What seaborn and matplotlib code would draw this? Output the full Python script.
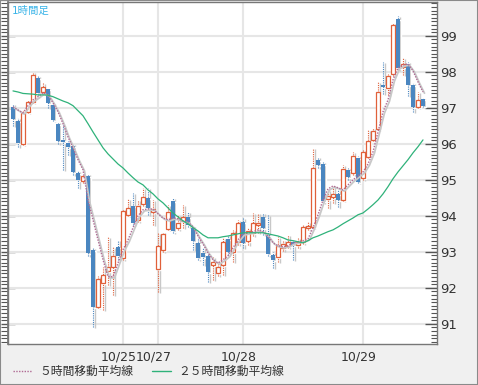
import numpy as np
import pandas as pd
import seaborn as sns
import matplotlib.pyplot as plt
import matplotlib.transforms as mtransforms
from matplotlib.patches import Rectangle
from matplotlib.lines import Line2D
from matplotlib.ticker import MultipleLocator

# hourly OHLC
open_ = [97.03, 96.64, 96.00, 96.89, 97.17, 97.83, 97.44, 97.53, 97.08, 96.56,
         96.11, 96.03, 95.94, 95.19, 94.97, 95.11, 93.06, 91.47, 92.14, 92.47,
         92.58, 93.14, 92.83, 94.03, 94.28, 93.89, 94.33, 94.50, 94.11, 92.53,
         93.06, 93.64, 94.42, 93.67, 93.86, 93.97, 93.67, 93.25, 92.97, 92.89,
         92.64, 92.42, 92.64, 93.36, 93.00, 93.28, 93.83, 93.31, 93.53, 93.75,
         93.97, 93.47, 92.92, 92.86, 93.11, 93.17, 93.28, 93.19, 93.28, 93.67,
         93.69, 95.56, 95.44, 94.47, 94.53, 94.61, 94.44, 95.28, 95.19, 95.61,
         95.06, 95.64, 96.11, 96.42, 97.64, 97.56, 97.94, 99.47, 98.14, 98.22,
         97.64, 97.03, 97.25]
close = [96.69, 96.03, 96.86, 97.17, 97.92, 97.42, 97.58, 97.14, 96.67, 96.08,
         96.06, 95.92, 95.22, 95.00, 95.11, 92.97, 91.47, 92.25, 92.36, 92.58,
         92.89, 92.89, 94.14, 94.22, 93.81, 94.28, 94.53, 94.22, 94.19, 93.17,
         93.50, 94.11, 93.58, 93.81, 93.97, 93.75, 93.31, 92.83, 92.86, 92.44,
         92.72, 92.58, 93.28, 93.00, 93.53, 93.81, 93.25, 93.58, 93.81, 93.81,
         93.67, 92.94, 92.78, 93.17, 93.22, 93.28, 93.19, 93.28, 93.69, 93.72,
         95.33, 95.42, 94.42, 94.56, 94.61, 94.44, 95.31, 95.08, 95.67, 94.94,
         95.78, 96.08, 96.36, 97.44, 97.58, 97.89, 99.31, 98.11, 98.22, 97.64,
         97.03, 97.22, 97.06]
high = [97.11, 96.72, 96.92, 97.22, 98.00, 97.89, 97.69, 97.56, 97.14, 96.61,
        96.53, 96.08, 96.00, 95.25, 95.14, 95.17, 93.11, 92.33, 92.58, 93.42,
        93.14, 93.33, 94.19, 94.47, 94.64, 94.44, 94.78, 94.78, 94.44, 93.53,
        93.56, 94.31, 94.50, 94.03, 94.31, 94.11, 93.72, 93.39, 93.11, 92.97,
        92.86, 92.72, 93.39, 93.47, 93.61, 93.89, 93.94, 93.67, 94.08, 94.08,
        94.08, 94.03, 93.00, 93.42, 93.33, 93.47, 93.33, 93.39, 93.75, 93.83,
        95.89, 95.64, 95.50, 94.72, 94.83, 94.72, 95.42, 95.33, 95.78, 95.67,
        95.83, 96.39, 96.44, 97.72, 98.28, 97.94, 99.36, 99.56, 98.39, 98.28,
        97.69, 97.44, 97.28]
low = [96.50, 95.92, 95.97, 96.86, 97.14, 97.36, 97.42, 97.00, 96.64, 96.00,
       95.28, 95.69, 95.14, 94.78, 94.92, 92.89, 90.92, 91.44, 91.39, 92.08,
       91.81, 92.78, 92.78, 94.00, 93.75, 93.83, 94.28, 94.03, 93.75, 91.89,
       93.00, 93.61, 93.53, 93.61, 93.67, 93.69, 93.06, 92.78, 92.64, 92.17,
       92.22, 92.33, 92.36, 92.92, 92.72, 93.19, 93.11, 93.19, 93.44, 93.53,
       93.47, 92.89, 92.56, 92.72, 93.03, 93.11, 92.78, 93.11, 93.22, 93.61,
       93.67, 95.33, 94.36, 94.22, 94.36, 94.25, 94.42, 95.00, 95.14, 94.92,
       95.00, 95.61, 96.08, 96.39, 97.39, 97.36, 97.89, 98.06, 97.92, 97.33,
       96.89, 97.00, 97.03]

# moving averages as drawn on the chart
ma5 = [97.03, 96.94, 96.86, 97.06, 97.22, 97.31, 97.42, 97.36, 97.14, 96.89,
       96.56, 96.19, 95.89, 95.56, 95.28, 94.44, 93.89, 93.33, 92.78, 92.31,
       92.31, 92.69, 93.06, 93.33, 93.67, 94.00, 94.17, 94.19, 94.19, 94.06,
       93.94, 93.89, 93.94, 93.92, 93.86, 93.83, 93.69, 93.44, 93.22, 92.97,
       92.78, 92.69, 92.78, 92.89, 93.11, 93.33, 93.50, 93.53, 93.56, 93.61,
       93.56, 93.44, 93.25, 93.17, 93.14, 93.17, 93.25, 93.28, 93.31, 93.36,
       93.67, 94.03, 94.44, 94.75, 94.83, 94.78, 94.72, 94.86, 95.00, 95.11,
       95.22, 95.44, 95.78, 96.33, 96.89, 97.22, 97.78, 98.11, 98.19, 98.22,
       98.03, 97.72, 97.44]
ma25 = [97.47, 97.44, 97.40, 97.39, 97.38, 97.36, 97.36, 97.35, 97.31, 97.25,
        97.19, 97.14, 97.06, 96.92, 96.78, 96.56, 96.33, 96.11, 95.89, 95.72,
        95.58, 95.44, 95.33, 95.19, 95.06, 94.94, 94.86, 94.72, 94.61, 94.47,
        94.36, 94.22, 94.08, 93.97, 93.86, 93.78, 93.67, 93.58, 93.47, 93.39,
        93.39, 93.39, 93.42, 93.44, 93.47, 93.50, 93.53, 93.53, 93.53, 93.53,
        93.53, 93.50, 93.47, 93.44, 93.39, 93.33, 93.31, 93.28, 93.25, 93.31,
        93.39, 93.44, 93.50, 93.56, 93.61, 93.69, 93.78, 93.86, 93.94, 94.03,
        94.08, 94.19, 94.31, 94.44, 94.61, 94.81, 95.03, 95.22, 95.39, 95.56,
        95.75, 95.92, 96.11]

date_pos = [22, 29, 46, 70]
date_labels = ["10/25", "10/27", "10/28", "10/29"]
price_ticks = [91, 92, 93, 94, 95, 96, 97, 98, 99]
legend_labels = ["５時間移動平均線", "２５時間移動平均線"]

RED = "#e0603a"
BLUE = "#4a86c0"
GREEN = "#2fb27a"
PURPLE = "#b06a94"
SHADOW = "#c8c8c8"

sns.set_theme(style="white")
plt.rcParams["font.family"] = ["DejaVu Sans", "Noto Sans CJK JP"]

df = pd.DataFrame({"t": np.arange(len(close)), "open": open_, "close": close,
                   "high": high, "low": low, "ma5": ma5, "ma25": ma25})

fig = plt.figure(figsize=(4.78, 3.85), dpi=100, facecolor="#f0f0f0")
ax = fig.add_axes([8 / 478, 41 / 385, 429 / 478, 342 / 385])
ax.set_facecolor("white")

t = df["t"].to_numpy()
o = df["open"].to_numpy()
c = df["close"].to_numpy()
up = c >= o
lo = np.minimum(o, c)
h = np.maximum(np.abs(c - o), 0.03)

# gray drop shadow behind candles
shift = mtransforms.offset_copy(ax.transData, fig, x=1.5, y=-1.2, units="dots")
ax.vlines(t, df["low"], df["high"], colors=SHADOW, lw=1, zorder=2, transform=shift)
ax.bar(t, h, bottom=lo, width=0.7, color=SHADOW, zorder=2, transform=shift)

# wicks
ax.vlines(t[up], df["low"][up], df["high"][up], colors=RED, lw=0.8,
          linestyles=(0, (1, 1)), zorder=3)
ax.vlines(t[~up], df["low"][~up], df["high"][~up], colors=BLUE, lw=0.8,
          linestyles=(0, (1, 1)), zorder=3)

# bodies
ax.bar(t[up], h[up], bottom=lo[up], width=0.7, facecolor="white",
       edgecolor=RED, lw=0.9, zorder=4)
ax.bar(t[~up], h[~up], bottom=lo[~up], width=0.7, color=BLUE, lw=0, zorder=4)

# moving averages
ax.plot(t, df["ma5"], color=SHADOW, lw=1.3, zorder=5, transform=shift)
sns.lineplot(data=df, x="t", y="ma5", ax=ax, color=PURPLE, lw=1,
             linestyle=(0, (1, 1)), zorder=6)
sns.lineplot(data=df, x="t", y="ma25", ax=ax, color=GREEN, lw=0.9, zorder=6)

ax.set_xlim(-1.0, 84.8)
ax.set_ylim(90.44, 99.94)
ax.set_xlabel("")
ax.set_ylabel("")

# grid
ax.set_axisbelow(True)
ax.grid(True, which="major", color="#e6e6e6", lw=1.5)
ax.grid(False, which="minor")

# x dates
ax.set_xticks(date_pos, date_labels)
ax.tick_params(axis="x", length=0, pad=5, labelsize=9, labelcolor="#333333")
for lab in ax.get_xticklabels():
    lab.set_transform(lab.get_transform() +
                      mtransforms.ScaledTranslation(-4 / 100, 0, fig.dpi_scale_trans))

# right price axis
ax.yaxis.tick_right()
ax.set_yticks(price_ticks, [str(p) for p in price_ticks])
ax.yaxis.set_minor_locator(MultipleLocator(0.1))
ax.tick_params(axis="y", which="major", direction="in", length=9, width=1,
               color="#555555", labelsize=9.5, labelcolor="#333333", pad=2)
ax.tick_params(axis="y", which="minor", direction="in", length=4, width=0.8,
               color="#555555")

# left ruler
lax = ax.secondary_yaxis("left")
lax.set_yticks(price_ticks, [""] * len(price_ticks))
lax.yaxis.set_minor_locator(MultipleLocator(0.1))
lax.tick_params(axis="y", which="major", direction="inout", length=10, width=1,
                color="#555555")
lax.tick_params(axis="y", which="minor", direction="out", length=5, width=0.8,
                color="#555555")
lax.spines["left"].set_color("#777777")

for s in ax.spines.values():
    s.set_color("#777777")
    s.set_linewidth(1)

ax.text(0.01, 0.99, "1時間足", transform=ax.transAxes, ha="left", va="top",
        fontsize=7.5, color="#3ab4e8")

handles = [Line2D([], [], color=PURPLE, lw=1, linestyle=(0, (1, 1))),
           Line2D([], [], color=GREEN, lw=1)]
fig.legend(handles, legend_labels, loc="lower left", bbox_to_anchor=(0.005, -0.01),
           ncol=2, frameon=False, fontsize=8.5, handlelength=1.6,
           handletextpad=0.6, columnspacing=1.6, labelcolor="#333333")

fig.patches.append(Rectangle((0, 41 / 385), 8 / 478, 342 / 385, transform=fig.transFigure,
                             facecolor="white", edgecolor="none", zorder=-1))
fig.patches.append(Rectangle((0, 0), 1, 1, transform=fig.transFigure, fill=False,
                             edgecolor="#8a8a8a", lw=1.5, zorder=10))

fig.savefig("out.png", dpi=100, facecolor=fig.get_facecolor())
